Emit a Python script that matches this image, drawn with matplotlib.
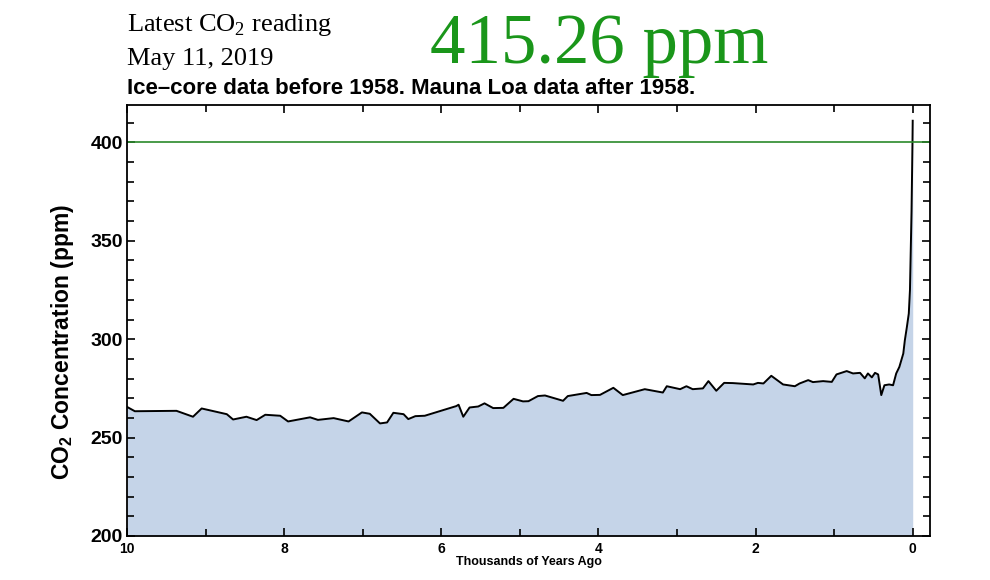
import numpy as np
import matplotlib.pyplot as plt
from matplotlib.ticker import MultipleLocator

plt.rcParams['font.family'] = ['Liberation Sans', 'DejaVu Sans']
plt.rcParams['mathtext.fontset'] = 'custom'
plt.rcParams['mathtext.rm'] = 'Liberation Serif'
plt.rcParams['mathtext.sf'] = 'Liberation Sans:bold'

# thousands of years before present
kya = [10.0, 9.9, 9.37, 9.16, 9.05, 8.73, 8.65, 8.48, 8.35, 8.24, 8.05, 7.95,
       7.67, 7.57, 7.37, 7.18, 7.01, 6.91, 6.78, 6.69, 6.61, 6.48, 6.42, 6.33,
       6.21, 5.81, 5.78, 5.72, 5.64, 5.53, 5.45, 5.34, 5.21, 5.08, 4.96, 4.89,
       4.77, 4.68, 4.45, 4.39, 4.15, 4.09, 3.98, 3.81, 3.69, 3.41, 3.18, 3.13,
       2.96, 2.88, 2.80, 2.67, 2.60, 2.50, 2.40, 2.29, 2.03, 1.97, 1.90, 1.80,
       1.65, 1.50, 1.44, 1.33, 1.27, 1.14, 1.03, 0.97, 0.84, 0.76, 0.67, 0.61,
       0.57, 0.52, 0.48, 0.44, 0.40, 0.36, 0.30, 0.25, 0.21, 0.17, 0.12, 0.10,
       0.075, 0.05, 0.035, 0.025, 0.015, 0.008, 0.003, 0.0]
co2 = [265.6, 263.4, 263.6, 260.6, 264.8, 261.9, 259.2, 260.6, 258.9, 261.6, 261.1, 258.2,
       260.3, 259.0, 259.9, 258.2, 262.8, 262.1, 257.2, 257.7, 262.6, 261.9, 259.4, 260.9,
       261.1, 266.0, 266.7, 260.6, 265.3, 265.8, 267.4, 265.0, 265.1, 269.7, 268.4, 268.5,
       271.1, 271.4, 268.7, 271.1, 272.7, 271.6, 271.7, 275.3, 271.6, 274.6, 272.9, 276.1,
       274.6, 276.1, 274.6, 275.0, 278.7, 273.8, 277.8, 277.7, 277.0, 277.8, 277.5, 281.4,
       277.0, 276.1, 277.5, 279.2, 278.2, 278.7, 278.3, 282.1, 283.8, 282.6, 282.9, 280.1,
       282.6, 280.6, 282.9, 282.1, 271.6, 276.6, 277.0, 276.6, 282.6, 285.9, 292.7, 299.5,
       306.0, 313.0, 325.0, 345.0, 365.0, 385.0, 400.0, 411.0]

latest_label = "Latest CO$_2$ reading"
latest_date = "May 11, 2019"
latest_value = "415.26 ppm"
subtitle = "Ice\u2013core data before 1958. Mauna Loa data after 1958."

fig = plt.figure(figsize=(9.9, 5.8), dpi=100)
ax = fig.add_axes([127 / 990, 1 - 536 / 580, (930 - 127) / 990, (536 - 105) / 580])

ax.fill_between(kya, co2, 200, color='#c5d4e8', lw=0)
ax.plot(kya, co2, color='black', lw=1.4)
ax.axhline(400, color='#2a8a2a', lw=1.2)

ax.set_xlim(10, -0.22)
ax.set_ylim(200, 419)
ax.xaxis.set_major_locator(MultipleLocator(2))
ax.xaxis.set_minor_locator(MultipleLocator(1))
ax.yaxis.set_major_locator(MultipleLocator(50))
ax.yaxis.set_minor_locator(MultipleLocator(10))
ax.tick_params(which='both', direction='in', top=True, right=True, width=1.2)
ax.tick_params(which='major', length=6)
ax.tick_params(which='minor', length=5)
ax.tick_params(axis='y', labelsize=14, pad=3)
ax.tick_params(axis='x', labelsize=10, pad=4)
for lab in ax.get_xticklabels() + ax.get_yticklabels():
    lab.set_fontweight('bold')
for s in ax.spines.values():
    s.set_linewidth(1.3)

ax.set_ylabel("CO$_\\mathsf{2}$ Concentration (ppm)", fontsize=16.5, fontweight='bold')
ax.yaxis.set_label_coords(-0.063, 0.45)
ax.set_xlabel("Thousands of Years Ago", fontsize=9, fontweight='bold', labelpad=0)

fig.text(127 / 990, 1 - 31 / 580, latest_label, family='Liberation Serif', fontsize=19, va='baseline')
fig.text(127 / 990, 1 - 65 / 580, latest_date, family='Liberation Serif', fontsize=19, va='baseline')
fig.text(430 / 990, 1 - 63 / 580, latest_value, family='Liberation Serif', fontsize=51,
         color='#1a961a', va='baseline')
fig.text(127 / 990, 1 - 94 / 580, subtitle, fontsize=16, fontweight='bold', va='baseline')

fig.savefig('out.png', dpi=100)
